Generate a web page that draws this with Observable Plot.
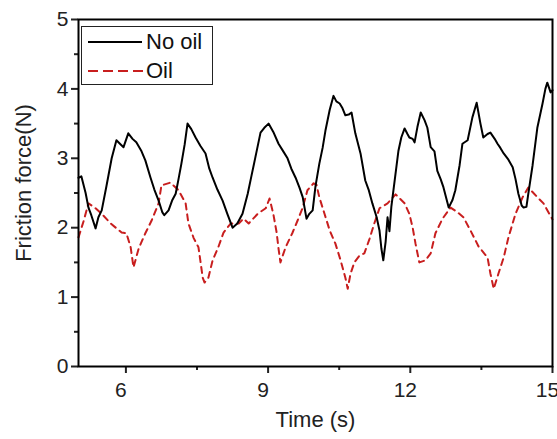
<!DOCTYPE html>
<html><head><meta charset="utf-8">
<script src="https://cdn.jsdelivr.net/npm/d3@7"></script>
<script src="https://cdn.jsdelivr.net/npm/@observablehq/plot@0.6"></script>
<style>
body{margin:0;background:#fff;}
#wrap{position:relative;width:557px;height:439px;font-family:"Liberation Sans",Arial,sans-serif;}
#legend{position:absolute;left:81px;top:26px;width:132px;height:59px;border:1.5px solid #222;background:#fff;box-sizing:border-box;}
#legend .lab{position:absolute;left:64px;font-size:22px;color:#111;line-height:26px;}
#legend svg{position:absolute;left:6px;}
</style></head><body><div id="wrap"></div>
<script>
// No oil (black solid)
const noOilTime = [5.00,5.06,5.15,5.21,5.27,5.36,5.42,5.49,5.59,5.70,5.80,5.89,5.95,6.05,6.14,6.22,6.33,6.41,6.52,6.60,6.69,6.77,6.81,6.90,6.98,7.05,7.11,7.17,7.24,7.30,7.38,7.47,7.57,7.68,7.76,7.83,7.93,8.04,8.14,8.25,8.35,8.46,8.57,8.65,8.73,8.84,8.92,9.01,9.11,9.22,9.32,9.41,9.49,9.58,9.66,9.73,9.81,9.87,9.94,10.00,10.08,10.15,10.21,10.30,10.38,10.44,10.51,10.57,10.63,10.70,10.76,10.84,10.95,11.05,11.12,11.20,11.29,11.35,11.39,11.43,11.48,11.52,11.56,11.60,11.67,11.75,11.81,11.88,11.94,11.98,12.05,12.09,12.15,12.22,12.30,12.36,12.43,12.51,12.57,12.64,12.70,12.81,12.89,12.95,13.04,13.10,13.21,13.31,13.40,13.48,13.54,13.63,13.69,13.78,13.84,13.90,13.97,14.07,14.16,14.22,14.28,14.35,14.39,14.45,14.49,14.58,14.68,14.79,14.85,14.89,14.96,15.00];
const noOilForce = [2.72,2.74,2.50,2.29,2.18,1.99,2.15,2.25,2.60,3.00,3.26,3.20,3.16,3.36,3.28,3.23,3.10,2.97,2.72,2.55,2.39,2.22,2.18,2.25,2.40,2.49,2.70,2.92,3.20,3.50,3.42,3.30,3.18,3.07,2.85,2.72,2.55,2.39,2.20,2.00,2.06,2.20,2.49,2.75,3.01,3.37,3.44,3.50,3.38,3.21,3.10,3.00,2.85,2.72,2.58,2.44,2.13,2.20,2.25,2.60,2.92,3.15,3.40,3.70,3.90,3.82,3.79,3.72,3.62,3.63,3.66,3.36,3.07,2.68,2.55,2.35,2.15,1.96,1.70,1.53,1.80,2.15,1.95,2.30,2.68,3.11,3.30,3.43,3.35,3.30,3.28,3.23,3.45,3.66,3.55,3.44,3.16,3.10,2.82,2.70,2.58,2.29,2.40,2.54,2.90,3.21,3.26,3.59,3.80,3.50,3.30,3.35,3.37,3.28,3.21,3.15,3.07,2.98,2.87,2.70,2.49,2.32,2.29,2.30,2.49,2.90,3.44,3.79,4.00,4.09,3.95,3.98];
// Oil (red dashed)
const oilTime = [5.00,5.11,5.21,5.36,5.49,5.68,5.91,6.01,6.10,6.16,6.27,6.41,6.54,6.69,6.75,6.94,7.11,7.26,7.32,7.43,7.53,7.57,7.62,7.66,7.74,7.83,7.95,8.06,8.21,8.38,8.48,8.59,8.78,8.95,9.03,9.11,9.18,9.22,9.26,9.37,9.51,9.62,9.73,9.83,9.96,10.02,10.08,10.19,10.30,10.42,10.53,10.63,10.68,10.74,10.82,10.93,11.03,11.14,11.24,11.35,11.52,11.69,11.88,11.98,12.05,12.11,12.19,12.32,12.43,12.53,12.68,12.85,13.00,13.12,13.27,13.44,13.63,13.69,13.76,13.86,13.97,14.07,14.22,14.37,14.49,14.68,14.81,15.00];
const oilForce = [1.86,2.10,2.35,2.28,2.20,2.06,1.93,1.92,1.72,1.43,1.70,1.92,2.10,2.35,2.61,2.65,2.54,2.35,2.06,1.85,1.72,1.53,1.28,1.21,1.28,1.53,1.72,1.93,2.06,2.06,2.13,2.06,2.20,2.28,2.42,2.20,1.93,1.70,1.50,1.72,1.92,2.10,2.29,2.54,2.64,2.62,2.44,2.20,1.96,1.77,1.53,1.28,1.12,1.34,1.50,1.60,1.63,1.84,2.06,2.28,2.35,2.48,2.35,2.20,2.00,1.77,1.50,1.53,1.63,1.92,2.13,2.29,2.22,2.15,1.96,1.73,1.57,1.34,1.12,1.34,1.57,1.86,2.20,2.44,2.58,2.44,2.35,2.12];

const xMajor = [6, 9, 12, 15];
const xMinor = [7.5, 10.5, 13.5];
const yMajor = [0, 1, 2, 3, 4, 5];
const yMinor = [0.5, 1.5, 2.5, 3.5, 4.5];
const xLabel = "Time (s)";
const yLabel = "Friction force(N)";
const seriesNames = ["No oil", "Oil"];

const noOil = noOilTime.map((t, i) => ({t, f: noOilForce[i]}));
const oil = oilTime.map((t, i) => ({t, f: oilForce[i]}));

const FONT = '"Liberation Sans", Arial, sans-serif';
const RED = "#c81e1e";

const chart = Plot.plot({
  width: 557, height: 439,
  marginLeft: 78, marginRight: 5, marginTop: 19, marginBottom: 73,
  style: {fontFamily: FONT, fontSize: "21px", color: "#222", background: "white", overflow: "visible"},
  x: {domain: [5, 15]},
  y: {domain: [0, 5]},
  marks: [
    Plot.line(oil, {x: "t", y: "f", stroke: RED, strokeWidth: 2, strokeDasharray: "6,5"}),
    Plot.line(noOil, {x: "t", y: "f", stroke: "#000", strokeWidth: 2}),
    Plot.axisX({ticks: xMajor, tickSize: 7, strokeWidth: 2, text: null, label: null}),
    Plot.axisX({ticks: xMinor, tickSize: 4, strokeWidth: 2, text: null, label: null}),
    Plot.axisX({ticks: xMajor, tickSize: 0, tickPadding: 16, dx: -5, fontSize: 21, label: null, fill: "#222", tickFormat: d => String(d)}),
    Plot.axisY({ticks: yMajor, tickSize: 7, strokeWidth: 2, text: null, label: null}),
    Plot.axisY({ticks: yMinor, tickSize: 4, strokeWidth: 2, text: null, label: null}),
    Plot.axisY({ticks: yMajor, tickSize: 0, tickPadding: 10, fontSize: 21, label: null, fill: "#222", tickFormat: d => String(d)}),
    Plot.frame({stroke: "#000", strokeWidth: 2}),
    Plot.text([xLabel], {text: d => d, frameAnchor: "bottom", dy: 60, fontSize: 22, fill: "#222"}),
    Plot.text([yLabel], {text: d => d, frameAnchor: "left", textAnchor: "middle", rotate: -90, dx: -55, dy: -10, fontSize: 22, fill: "#222"})
  ]
});

const wrap = document.getElementById("wrap");
wrap.appendChild(chart);

const legend = document.createElement("div");
legend.id = "legend";
legend.innerHTML = `
  <svg width="56" height="10" style="top:10px"><line x1="0" y1="5" x2="54" y2="5" stroke="#000" stroke-width="2"/></svg>
  <div class="lab" style="top:2px">${seriesNames[0]}</div>
  <svg width="56" height="10" style="top:39px"><line x1="0" y1="5" x2="56" y2="5" stroke="${RED}" stroke-width="2" stroke-dasharray="10,5"/></svg>
  <div class="lab" style="top:31px">${seriesNames[1]}</div>`;
wrap.appendChild(legend);
</script>
</body></html>
